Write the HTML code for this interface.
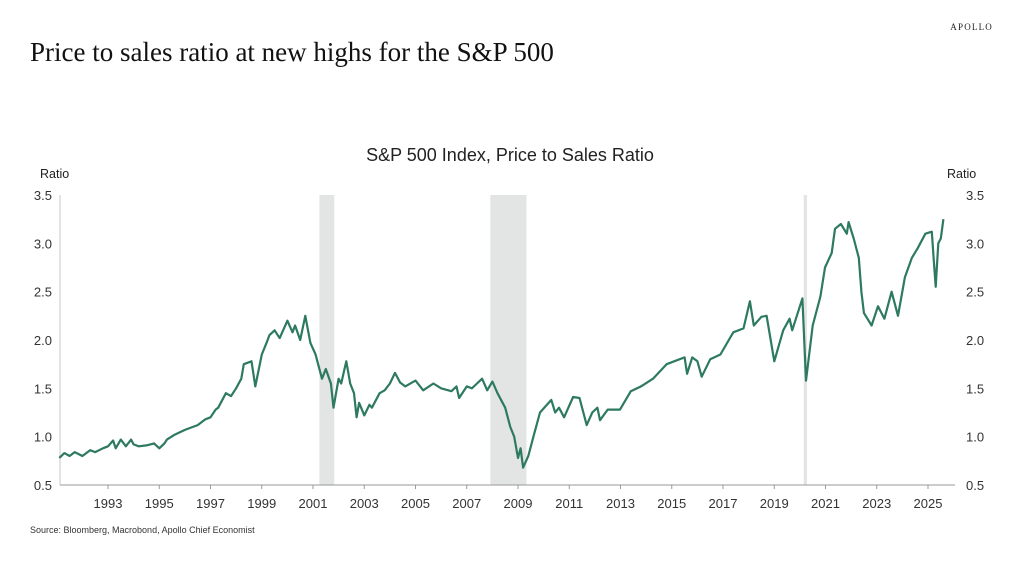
<!DOCTYPE html>
<html><head><meta charset="utf-8"><style>
body{margin:0;background:#fff;width:1024px;height:574px;overflow:hidden;font-family:"Liberation Sans",sans-serif}
</style></head><body>
<svg width="1024" height="574" xmlns="http://www.w3.org/2000/svg">
<text x="30" y="61" font-family="Liberation Serif,serif" font-size="27" fill="#111">Price to sales ratio at new highs for the S&amp;P 500</text>
<text x="993" y="30" text-anchor="end" font-family="Liberation Serif,serif" font-size="9" letter-spacing="1.2" fill="#222">APOLLO</text>
<text x="510" y="161" text-anchor="middle" font-size="18" fill="#222">S&amp;P 500 Index, Price to Sales Ratio</text>
<text x="40" y="178" font-size="12.5" fill="#222">Ratio</text>
<text x="947" y="178" font-size="12.5" fill="#222">Ratio</text>
<text x="30" y="533" font-size="9" fill="#333">Source: Bloomberg, Macrobond, Apollo Chief Economist</text>
<g id="rec"></g><g id="axes"></g><g id="line"></g>
</svg>
<script>
const recStart=[2001.25,2007.92,2020.15];
const recEnd=[2001.83,2009.33,2020.28];
const yTicks=[0.5,1.0,1.5,2.0,2.5,3.0,3.5];
const xTicks=[1993,1995,1997,1999,2001,2003,2005,2007,2009,2011,2013,2015,2017,2019,2021,2023,2025];
const dates=[1991.1,1991.3,1991.5,1991.7,1992.0,1992.3,1992.5,1992.8,1993.0,1993.2,1993.3,1993.5,1993.7,1993.9,1994.0,1994.2,1994.5,1994.8,1995.0,1995.2,1995.3,1995.6,1996.0,1996.3,1996.5,1996.8,1997.0,1997.2,1997.3,1997.6,1997.8,1998.0,1998.2,1998.3,1998.6,1998.75,1999.0,1999.2,1999.3,1999.5,1999.7,2000.0,2000.2,2000.3,2000.5,2000.7,2000.9,2001.1,2001.2,2001.35,2001.5,2001.7,2001.8,2002.0,2002.1,2002.3,2002.45,2002.6,2002.7,2002.8,2003.0,2003.2,2003.3,2003.6,2003.8,2004.0,2004.2,2004.4,2004.6,2005.0,2005.3,2005.7,2006.0,2006.4,2006.6,2006.7,2007.0,2007.2,2007.4,2007.6,2007.8,2008.0,2008.2,2008.5,2008.7,2008.85,2009.0,2009.1,2009.2,2009.4,2009.6,2009.86,2010.3,2010.45,2010.6,2010.8,2011.15,2011.4,2011.68,2011.9,2012.1,2012.2,2012.5,2012.98,2013.4,2013.8,2014.27,2014.8,2015.3,2015.5,2015.6,2015.8,2016.0,2016.17,2016.5,2016.9,2017.4,2017.8,2018.05,2018.2,2018.5,2018.7,2019.0,2019.35,2019.6,2019.7,2020.1,2020.24,2020.5,2020.8,2020.98,2021.24,2021.37,2021.6,2021.83,2021.9,2022.1,2022.3,2022.4,2022.5,2022.8,2023.05,2023.3,2023.58,2023.83,2024.1,2024.37,2024.6,2024.9,2025.15,2025.22,2025.3,2025.4,2025.5,2025.6];
const values=[0.78,0.83,0.80,0.84,0.80,0.86,0.84,0.88,0.90,0.96,0.88,0.97,0.90,0.97,0.92,0.90,0.91,0.93,0.88,0.93,0.97,1.02,1.07,1.10,1.12,1.18,1.20,1.28,1.30,1.45,1.42,1.50,1.60,1.75,1.78,1.52,1.85,1.98,2.05,2.10,2.02,2.20,2.08,2.15,2.00,2.25,1.97,1.85,1.75,1.60,1.70,1.55,1.30,1.60,1.55,1.78,1.55,1.45,1.20,1.35,1.22,1.33,1.30,1.45,1.48,1.55,1.66,1.56,1.52,1.58,1.48,1.55,1.50,1.47,1.52,1.40,1.52,1.50,1.55,1.60,1.48,1.57,1.45,1.30,1.10,1.00,0.78,0.88,0.68,0.80,1.00,1.25,1.38,1.25,1.30,1.20,1.41,1.40,1.12,1.25,1.30,1.17,1.28,1.28,1.47,1.52,1.60,1.75,1.80,1.82,1.65,1.82,1.78,1.62,1.80,1.85,2.08,2.12,2.40,2.15,2.24,2.25,1.78,2.10,2.22,2.10,2.43,1.58,2.15,2.45,2.75,2.90,3.15,3.20,3.10,3.22,3.05,2.85,2.50,2.28,2.15,2.35,2.22,2.50,2.25,2.65,2.85,2.95,3.10,3.12,2.85,2.55,3.00,3.05,3.25];
const NS="http://www.w3.org/2000/svg";
const x0=60,x1=955,yTop=195,yBot=485;
const xs=y=>108+(y-1993)*25.625;
const ys=v=>yBot-(v-0.5)*(yBot-yTop)/3;
function mk(tag,attrs,parent){const e=document.createElementNS(NS,tag);for(const k in attrs)e.setAttribute(k,attrs[k]);document.getElementById(parent).appendChild(e);return e;}
recStart.forEach((s,i)=>{const r=mk('rect',{x:xs(s),y:yTop,width:Math.max(3,xs(recEnd[i])-xs(s)),height:yBot-yTop,fill:'#e3e4e4'},'rec');

});
const la=mk('line',{x1:x0,y1:yTop,x2:x0,y2:yBot,stroke:'#e3e4e4','stroke-width':2},'axes');


const xa=mk('line',{x1:x0,y1:yBot,x2:x1,y2:yBot,stroke:'#999','stroke-width':1},'axes');


yTicks.forEach(v=>{
 const a=mk('text',{x:52,y:ys(v)+5,'text-anchor':'end','font-size':13,fill:'#333'},'axes');a.textContent=v.toFixed(1);
 
 
 const b=mk('text',{x:966,y:ys(v)+5,'font-size':13,fill:'#333'},'axes');b.textContent=v.toFixed(1);
 
 
});
xTicks.forEach(t=>{
 const l=mk('line',{x1:xs(t),y1:yBot,x2:xs(t),y2:yBot+4,stroke:'#999'},'axes');
 
 
 const a=mk('text',{x:xs(t),y:yBot+23,'text-anchor':'middle','font-size':13,fill:'#333'},'axes');a.textContent=t;
 
 
});
const p=mk('polyline',{points:dates.map((d,i)=>xs(d).toFixed(1)+','+ys(values[i]).toFixed(1)).join(' '),fill:'none',stroke:'#2d7a60','stroke-width':2.2,'stroke-linejoin':'round'},'line');


</script>
</body></html>
